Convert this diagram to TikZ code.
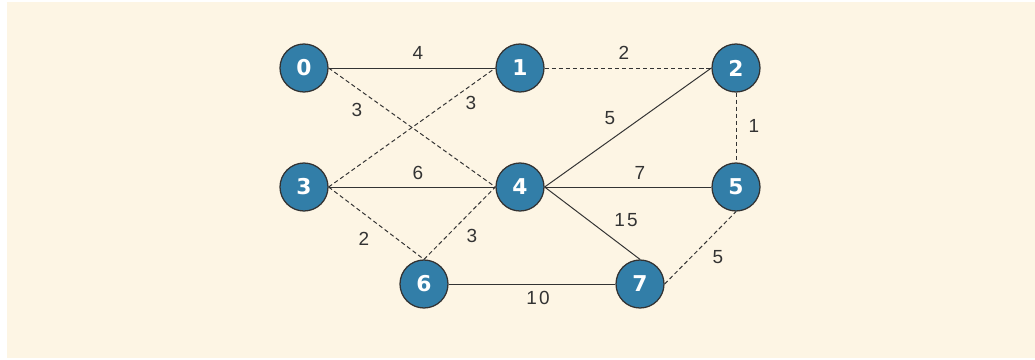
\documentclass[tikz,border=0pt]{standalone}
\usepackage{fontspec}
\usepackage{tikz}
\usetikzlibrary{positioning, calc}
\setmainfont{Liberation Sans}
\newfontfamily\vfont{DejaVu Sans}
\definecolor{myBlue}{RGB}{50,126,168}
\definecolor{myCream}{RGB}{253,245,228}
\definecolor{myInk}{RGB}{51,51,51}

\begin{document}
\begin{tikzpicture}[
  vtx/.style={circle, draw=myInk, line width=0.9pt, fill=myBlue,
    minimum size=1.2cm, inner sep=0pt, text=white,
    font=\vfont\bfseries\fontsize{15.5}{16}\selectfont},
  wt/.style={text=myInk, inner sep=1pt, font=\fontsize{13.5}{14}\selectfont},
  fulledge/.style={draw=myInk, line width=0.7pt},
  dashedge/.style={draw=myInk, line width=0.7pt, dash pattern=on 3pt off 2pt},
]
  \useasboundingbox (0,0) rectangle (25.875,-8.975);
  \fill[myCream] (0.175,-0.05) rectangle (25.875,-8.95);

  \node[vtx] (n0) at (7.6,-1.7)   {0};
  \node[vtx] (n1) at (13.0,-1.7)  {1};
  \node[vtx] (n2) at (18.4,-1.7)  {2};
  \node[vtx] (n3) at (7.6,-4.675) {3};
  \node[vtx] (n4) at (13.0,-4.675){4};
  \node[vtx] (n5) at (18.4,-4.675){5};
  \node[vtx] (n6) at (10.6,-7.1)  {6};
  \node[vtx] (n7) at (16.0,-7.1)  {7};

  \draw[fulledge] (n0.east) -- (n1.west);
  \draw[dashedge] (n1.east) -- (n2.west);
  \draw[dashedge] (n0.east) -- (n4.west);
  \draw[dashedge] (n3.east) -- (n1.west);
  \draw[fulledge] (n3.east) -- (n4.west);
  \draw[fulledge] (n4.east) -- (n2.west);
  \draw[dashedge] (n2.south) -- (n5.north);
  \draw[fulledge] (n4.east) -- (n5.west);
  \draw[fulledge] (n4.east) -- (n7.north);
  \draw[dashedge] (n3.east) -- (n6.north);
  \draw[dashedge] (n6.north) -- (n4.west);
  \draw[fulledge] (n6.east) -- (n7.west);
  \draw[dashedge] (n7.east) -- (n5.south);

  \node[wt] (w01) at (10.45,-1.325) {4};
  \node[wt] (w12) at (15.6,-1.325)  {2};
  \node[wt] (w04) at (8.925,-2.75)  {3};
  \node[wt] (w31) at (11.775,-2.575){3};
  \node[wt] (w34) at (10.45,-4.325) {6};
  \node[wt] (w42) at (15.25,-2.95)  {5};
  \node[wt] (w25) at (18.85,-3.15)  {1};
  \node[wt] (w45) at (16.0,-4.325)  {7};
  \node[wt] (w47) at (15.65,-5.5)   {1\kern1.5pt 5};
  \node[wt] (w36) at (9.1,-5.975)   {2};
  \node[wt] (w64) at (11.8,-5.9)    {3};
  \node[wt] (w67) at (13.45,-7.45)  {1\kern1.5pt 0};
  \node[wt] (w75) at (17.95,-6.425) {5};
\end{tikzpicture}
\end{document}
